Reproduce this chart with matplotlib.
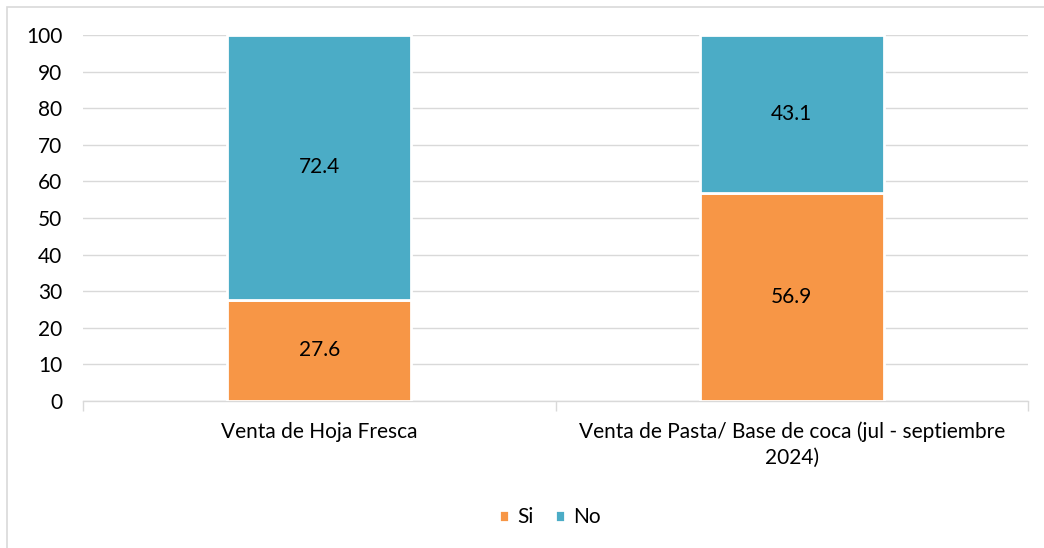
import matplotlib
matplotlib.use("Agg")
import matplotlib.pyplot as plt
from matplotlib.patches import Rectangle

categories = ["Venta de Hoja Fresca", "Venta de Pasta/ Base de coca (jul - septiembre\n2024)"]
si_values = [27.6, 56.9]
no_values = [72.4, 43.1]
series_names = ["Si", "No"]
yticks = list(range(0, 101, 10))

orange = "#F79646"
blue = "#4BACC6"

plt.rcParams['font.family'] = ['Lato', 'DejaVu Sans']
FS = 15

fig = plt.figure(figsize=(10.44, 5.48), dpi=100)
ax = fig.add_axes([83/1044, 1-401/548, (1028-83)/1044, (401-35)/548])

# chart border
fig.patches.append(Rectangle((7/1044, -0.01), 1.02, 1-7/548+0.01, transform=fig.transFigure,
                             fill=False, edgecolor="#D9D9D9", linewidth=1.2))

x = [0, 1]
w = 0.39
ax.bar(x, si_values, width=w, color=orange, edgecolor="white", linewidth=2, label=series_names[0], zorder=3)
ax.bar(x, no_values, width=w, bottom=si_values, color=blue, edgecolor="white", linewidth=2, label=series_names[1], zorder=3)

for i in range(2):
    ax.text(x[i], si_values[i]/2, f"{si_values[i]}", ha="center", va="center", fontsize=FS, color="black", zorder=4)
    ax.text(x[i], si_values[i] + no_values[i]/2, f"{no_values[i]}", ha="center", va="center", fontsize=FS, color="black", zorder=4)

ax.set_xlim(-0.5, 1.5)
ax.set_ylim(0, 100)
ax.set_yticks(yticks)
ax.set_yticklabels([str(t) for t in yticks], fontsize=FS)
ax.yaxis.grid(True, color="#D9D9D9", linewidth=1, zorder=0)
ax.tick_params(axis="y", length=0, pad=15)
ax.set_xticks(x)
ax.set_xticklabels(categories, fontsize=FS, linespacing=1.35)
ax.set_xticks([-0.5, 0.5, 1.5], minor=True)
ax.tick_params(axis="x", which="major", length=0, pad=15)
ax.tick_params(axis="x", which="minor", length=7, color="#D9D9D9", width=1)
for s in ["top", "right", "left"]:
    ax.spines[s].set_visible(False)
ax.spines["bottom"].set_color("#D9D9D9")
ax.spines["bottom"].set_linewidth(1)

fig.legend(loc="center", bbox_to_anchor=(550/1044, 1-517/548), ncol=2, frameon=False,
           fontsize=FS, handlelength=0.5, handleheight=0.5, handletextpad=0.4, columnspacing=1.0)

fig.savefig("out.png", dpi=100)
